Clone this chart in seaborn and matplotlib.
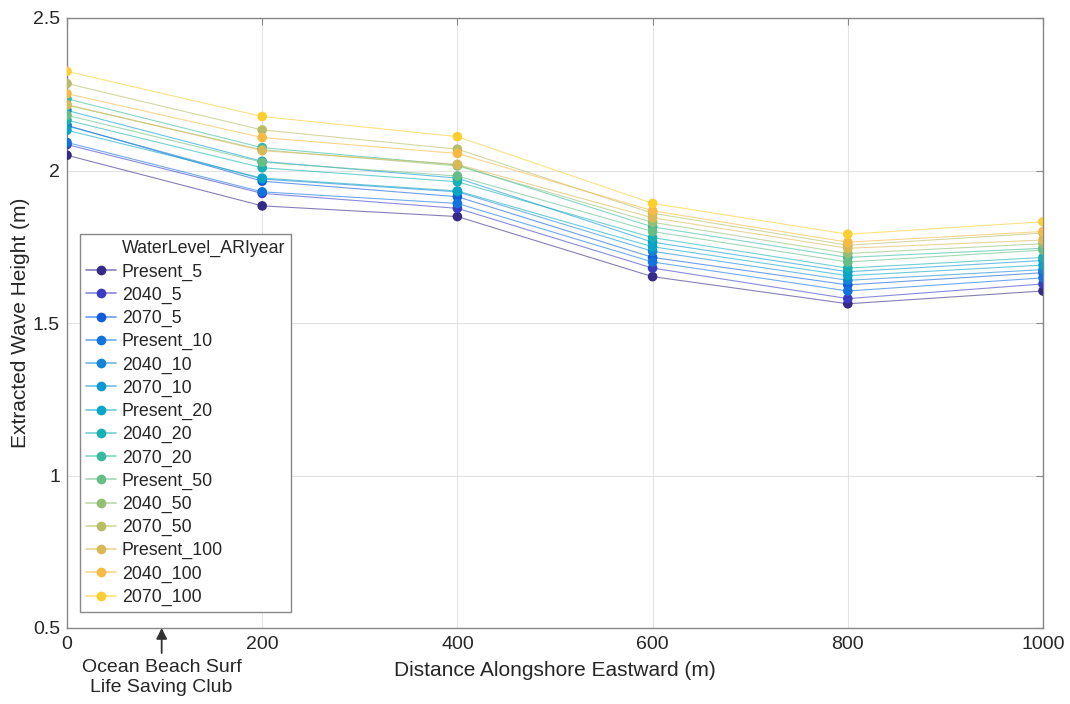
import numpy as np
import pandas as pd
import seaborn as sns
import matplotlib
matplotlib.use("Agg")
import matplotlib.pyplot as plt
from matplotlib.lines import Line2D
from matplotlib.colors import to_rgb

distance = [0, 200, 400, 600, 800, 1000]
series_names = ["Present_5", "2040_5", "2070_5", "Present_10", "2040_10", "2070_10",
                "Present_20", "2040_20", "2070_20", "Present_50", "2040_50", "2070_50",
                "Present_100", "2040_100", "2070_100"]

present_5 = [2.050, 1.884, 1.849, 1.652, 1.563, 1.605]
y2040_5 = [2.085, 1.925, 1.876, 1.680, 1.580, 1.628]
y2070_5 = [2.148, 1.965, 1.914, 1.715, 1.625, 1.665]
present_10 = [2.092, 1.930, 1.892, 1.700, 1.605, 1.648]
y2040_10 = [2.146, 1.972, 1.930, 1.735, 1.640, 1.675]
y2070_10 = [2.197, 2.030, 1.975, 1.765, 1.668, 1.705]
present_20 = [2.132, 1.975, 1.933, 1.750, 1.655, 1.690]
y2040_20 = [2.165, 2.009, 1.963, 1.780, 1.680, 1.715]
y2070_20 = [2.235, 2.075, 2.018, 1.815, 1.715, 1.745]
present_50 = [2.181, 2.027, 1.982, 1.800, 1.700, 1.739]
y2040_50 = [2.214, 2.068, 2.015, 1.830, 1.728, 1.760]
y2070_50 = [2.285, 2.133, 2.070, 1.860, 1.755, 1.795]
present_100 = [2.216, 2.065, 2.020, 1.845, 1.745, 1.772]
y2040_100 = [2.252, 2.108, 2.056, 1.868, 1.765, 1.800]
y2070_100 = [2.325, 2.177, 2.111, 1.892, 1.791, 1.832]

values = [present_5, y2040_5, y2070_5, present_10, y2040_10, y2070_10,
          present_20, y2040_20, y2070_20, present_50, y2040_50, y2070_50,
          present_100, y2040_100, y2070_100]

colors = ["#352a87", "#3a3dc4", "#0f5cdd", "#1272e0", "#1485d4", "#0a98d3",
          "#06a7c6", "#15b1b4", "#38b99e", "#65be86", "#92bf73", "#b7bd64",
          "#d9b955", "#f8ba43", "#fcce2e"]

rows = []
for name, vals in zip(series_names, values):
    for d, v in zip(distance, vals):
        rows.append({"Distance": d, "Height": v, "Series": name})
df = pd.DataFrame(rows)

sns.set_style("white")
plt.rcParams["font.family"] = ["Liberation Sans", "DejaVu Sans"]

fig = plt.figure(figsize=(10.7, 7.04), dpi=100)
ax = fig.add_axes([67/1070, 76/704, 976/1070, 610/704])

palette = dict(zip(series_names, colors))
line_alpha = 0.6
sns.lineplot(data=df, x="Distance", y="Height", hue="Series", hue_order=series_names,
             palette=palette, linewidth=0.8, alpha=line_alpha, ax=ax, legend=False)
sns.scatterplot(data=df, x="Distance", y="Height", hue="Series", hue_order=series_names,
                palette=palette, s=48, linewidth=0, ax=ax, legend=False, zorder=3)

ax.set_xlim(0, 1000)
ax.set_ylim(0.5, 2.5)
ax.set_xticks(distance)
ax.set_yticks([0.5, 1, 1.5, 2, 2.5])
ax.set_yticklabels(["0.5", "1", "1.5", "2", "2.5"])
ax.grid(True, color="#e3e3e3", linewidth=0.8)
ax.set_axisbelow(True)
for s in ax.spines.values():
    s.set_color("#888888")
    s.set_linewidth(1.0)
ax.tick_params(direction="in", length=5, color="#888888", labelsize=14,
               labelcolor="#262626", top=True, right=True)
ax.tick_params(axis="x", pad=6)
ax.tick_params(axis="y", pad=5)

ax.set_xlabel("Distance Alongshore Eastward (m)", fontsize=15, color="#262626")
ax.xaxis.set_label_coords(0.5, -0.054)
ax.set_ylabel("Extracted Wave Height (m)", fontsize=15, color="#262626")
ax.yaxis.set_label_coords(-0.038, 0.5)

ax.annotate("", xy=(97, 0.5), xycoords="data", xytext=(97, 0.5 - 0.082),
            textcoords="data", annotation_clip=False,
            arrowprops=dict(arrowstyle="-|>", color="#333333", lw=1.3,
                            mutation_scale=16, shrinkA=0, shrinkB=0))
ax.text(97, 0.5 - 0.1, "Ocean Beach Surf\nLife Saving Club", ha="center", va="top",
        fontsize=14, color="#262626", linespacing=1.3, clip_on=False)

handles = [Line2D([], [], linestyle="none", marker=None)]
labels = ["WaterLevel_ARIyear"]
for name, c in zip(series_names, colors):
    r, g, b = to_rgb(c)
    handles.append(Line2D([], [], color=(r, g, b, line_alpha), linewidth=1.2,
                          marker="o", markersize=7, markerfacecolor=(r, g, b, 1),
                          markeredgewidth=0))
    labels.append(name)

leg = ax.legend(handles, labels, loc="lower left",
                bbox_to_anchor=(0.0133, 0.026), borderaxespad=0,
                fontsize=12.8, frameon=True, fancybox=False,
                labelspacing=0.34, handlelength=1.7, handletextpad=0.3,
                borderpad=0.35)
leg.get_frame().set_edgecolor("#888888")
leg.get_frame().set_linewidth(1.0)
leg.get_frame().set_alpha(1)

fig.savefig("out.png", dpi=100)
